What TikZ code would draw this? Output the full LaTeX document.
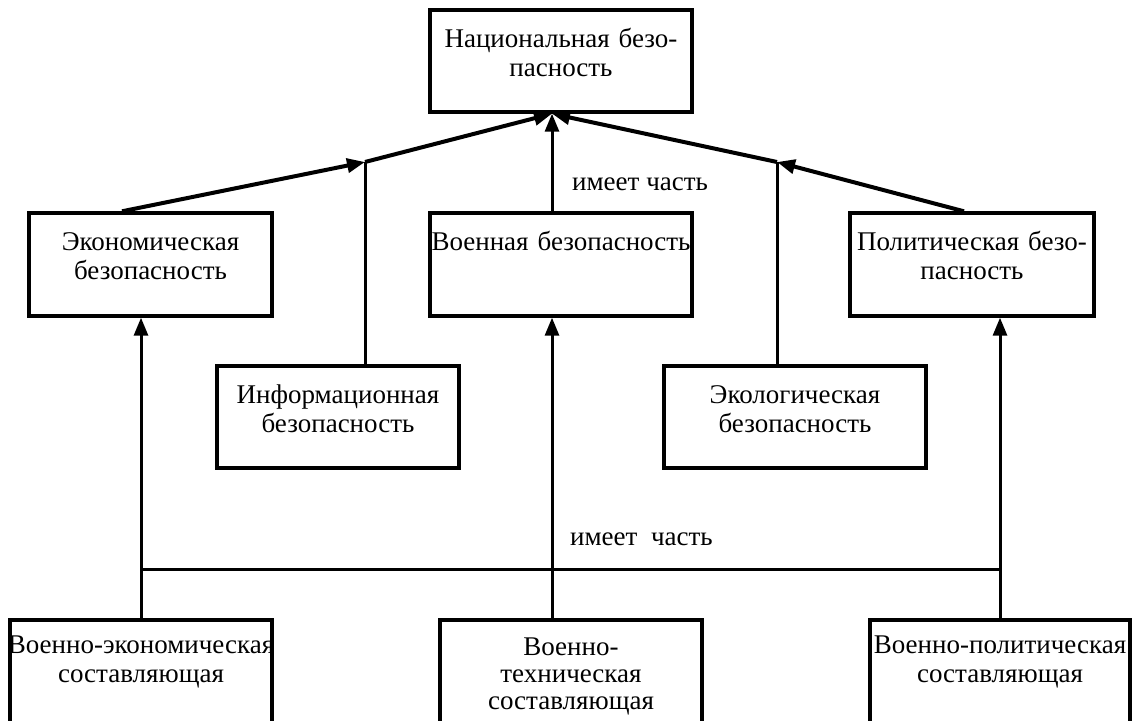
\documentclass[tikz,border=0pt]{standalone}
\usepackage{fontspec}
\setmainfont{Liberation Serif}
\newfontfamily\timesfam{Liberation Serif}
\usetikzlibrary{arrows.meta}
\begin{document}
\begin{tikzpicture}[x=1pt,y=-1pt,
  box/.style={draw, line width=3.4pt, rectangle, inner sep=0pt},
  lbl/.style={anchor=base, text width=300pt, align=center, inner sep=0pt, font=\timesfam\fontsize{27}{29}\selectfont},
  note/.style={anchor=base west, inner sep=0pt, font=\timesfam\fontsize{27}{29}\selectfont},
  conn/.style={line width=3pt},
  diag/.style={line width=4pt},
  tip/.style={-{Triangle[length=18pt,width=14pt]}},
]
\clip (0,0) rectangle (1132,720);
\fill[white] (0,0) rectangle (1132,720);

% boxes
\node[box, minimum width=262pt, minimum height=102pt] (top) at (561,61) {};
\node[box, minimum width=243pt, minimum height=103pt] (econ) at (150.5,264.5) {};
\node[box, minimum width=262pt, minimum height=103pt] (mil) at (561,264.5) {};
\node[box, minimum width=244pt, minimum height=103pt] (pol) at (972,264.5) {};
\node[box, minimum width=242pt, minimum height=102pt] (info) at (338,417) {};
\node[box, minimum width=262pt, minimum height=102pt] (eco) at (795,417) {};
\node[box, minimum width=262pt, minimum height=140pt] (vecon) at (141,690) {};
\node[box, minimum width=262pt, minimum height=140pt] (vtech) at (571,690) {};
\node[box, minimum width=260pt, minimum height=140pt] (vpol) at (1000,690) {};

% texts
\node[lbl] (t-top) at (561,47) {Национальная безо-\\пасность};
\node[lbl] (t-econ) at (150.5,250) {Экономическая\\безопасность};
\node[lbl] (t-mil) at (561,250) {Военная безопасность};
\node[lbl] (t-pol) at (972,250) {Политическая безо-\\пасность};
\node[lbl] (t-info) at (338,403) {Информационная\\безопасность};
\node[lbl] (t-eco) at (795,403) {Экологическая\\безопасность};
\node[lbl] (t-vecon) at (141,653) {Военно-экономическая\\составляющая};
\node[lbl, font=\timesfam\fontsize{27}{27}\selectfont] (t-vtech) at (571,655) {Военно-\\техническая\\составляющая};
\node[lbl] (t-vpol) at (1000,653) {Военно-политическая\\составляющая};

% junctions
\coordinate (apex) at ([xshift=-9pt]top.south);
\coordinate (j1) at (365,162);
\coordinate (j2) at (777,162);
\coordinate (hy) at (0,569);

% upper connectors
\draw[diag, tip] ([xshift=-28.5pt]econ.north) -- (j1);
\draw[diag, tip] (j1) -- (apex);
\draw[conn] (j1 |- info.north) -- (j1);
\draw[conn, tip] (apex |- mil.north) -- (apex);
\draw[diag, tip] ([xshift=-8pt]pol.north) -- (j2);
\draw[diag, tip] (j2) -- (apex);
\draw[conn] (j2 |- eco.north) -- (j2);

% lower connectors
\draw[conn, tip] (vecon.north) -- (vecon.north |- econ.south);
\draw[conn, tip] (apex |- vtech.north) -- (apex |- mil.south);
\draw[conn, tip] (vpol.north) -- (vpol.north |- pol.south);
\draw[conn] (vecon.north |- hy) -- (vpol.north |- hy);

% labels
\node[note] (n1) at (572,190) {имеет часть};
\node[note] (n2) at (570,545) {имеет\ \ часть};
\end{tikzpicture}
\end{document}
